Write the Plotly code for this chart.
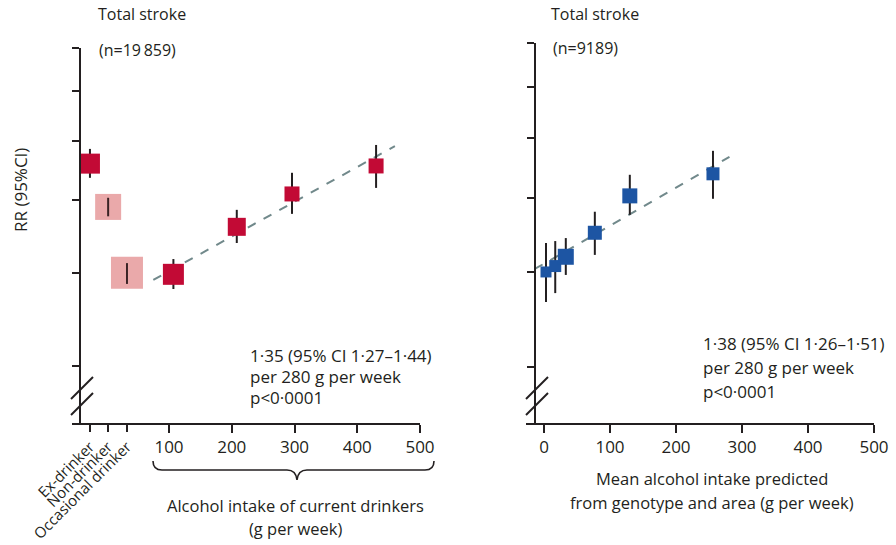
import numpy as np
import plotly.graph_objects as go

W, H = 896, 545
FONT = "Open Sans"
INK = "#231f20"
RED = "#c20a35"
PINK = "#eaa9aa"
BLUE = "#1d55a3"
FIT = "#71898b"

# ---------------- data ----------------
# Left panel: observational (conventional) analysis
cat_labels = ["Ex-drinker", "Non-drinker", "Occasional drinker"]
cat_pos = [-26, 3, 33]
cat_rr = [1.40, 1.225, 1.00]
cat_lo = [1.34, 1.19, 0.966]
cat_hi = [1.465, 1.26, 1.03]
cat_size = [20, 26, 32]

cur_intake = [107, 208, 296, 430]
cur_rr = [0.995, 1.152, 1.275, 1.39]
cur_lo = [0.951, 1.096, 1.199, 1.299]
cur_hi = [1.043, 1.214, 1.361, 1.483]
cur_size = [21, 18, 15, 15]

left_fit_x = [75, 460]
left_fit_rr0 = 0.978
left_rr_per280 = 1.35
left_stats = ["1\u00b735 (95% CI 1\u00b727\u20131\u00b744)", "per 280 g per week", "p<0\u00b70001"]

# Right panel: genetic (Mendelian randomisation) analysis
gen_intake = [3, 17, 33, 77, 130, 256]
gen_rr = [1.0, 1.018, 1.047, 1.126, 1.259, 1.346]
gen_lo = [0.913, 0.938, 0.991, 1.053, 1.189, 1.248]
gen_hi = [1.092, 1.098, 1.108, 1.200, 1.342, 1.443]
gen_size = [11, 12, 16, 14, 15, 13]

right_fit_x = [-14, 281]
right_fit_rr0 = 1.009
right_rr_per280 = 1.38
right_stats = ["1\u00b738 (95% CI 1\u00b726\u20131\u00b751)", "per 280 g per week", "p<0\u00b70001"]

y_ticks = [0.75, 1.0, 1.25, 1.5, 1.75, 2.0]
x_ticks_left = [100, 200, 300, 400, 500]
x_ticks_right = [0, 100, 200, 300, 400, 500]


def px(x):
    return x / W


def py(y):
    return 1 - y / H


def fit_line(xr, rr0, per280):
    xs = np.array(xr, dtype=float)
    return xs, rr0 * per280 ** ((xs - xs[0]) / 280.0)


def err(lo, mid, hi, color=INK):
    return dict(type="data", symmetric=False,
                array=[h - m for h, m in zip(hi, mid)],
                arrayminus=[m - l for l, m in zip(lo, mid)],
                color=color, thickness=2, width=0)


fig = go.Figure()

# ---------- left panel ----------
lx, ly = fit_line(left_fit_x, left_fit_rr0, left_rr_per280)
fig.add_trace(go.Scatter(x=lx, y=ly, mode="lines", xaxis="x", yaxis="y",
                         line=dict(color=FIT, width=2, dash="dash"), hoverinfo="skip"))

# ex-drinker (solid, error bar behind marker)
fig.add_trace(go.Scatter(
    x=cat_pos[:1], y=cat_rr[:1], mode="markers", xaxis="x", yaxis="y",
    marker=dict(symbol="square", size=cat_size[:1], color=RED, opacity=1, line=dict(width=0)),
    error_y=err(cat_lo[:1], cat_rr[:1], cat_hi[:1])))

# non / occasional drinkers (pale boxes with CI on top)
fig.add_trace(go.Scatter(
    x=cat_pos[1:], y=cat_rr[1:], mode="markers", xaxis="x", yaxis="y",
    marker=dict(symbol="square", size=cat_size[1:], color=PINK, opacity=1, line=dict(width=0))))
fig.add_trace(go.Scatter(
    x=cat_pos[1:], y=cat_rr[1:], mode="markers", xaxis="x", yaxis="y",
    marker=dict(size=1, color="rgba(0,0,0,0)"),
    error_y=err(cat_lo[1:], cat_rr[1:], cat_hi[1:], "#3a2325")))

# current drinkers
fig.add_trace(go.Scatter(
    x=cur_intake, y=cur_rr, mode="markers", xaxis="x", yaxis="y",
    marker=dict(symbol="square", size=cur_size, color=RED, opacity=1, line=dict(width=0)),
    error_y=err(cur_lo, cur_rr, cur_hi)))

# invisible trace to hold the category axis
fig.add_trace(go.Scatter(x=[cat_pos[0]], y=[1.0], mode="markers", xaxis="x3", yaxis="y",
                         marker=dict(size=1, color="rgba(0,0,0,0)"), hoverinfo="skip"))

# ---------- right panel ----------
rx, ry = fit_line(right_fit_x, right_fit_rr0, right_rr_per280)
fig.add_trace(go.Scatter(x=rx, y=ry, mode="lines", xaxis="x2", yaxis="y2",
                         line=dict(color=FIT, width=2, dash="dash"), hoverinfo="skip"))
fig.add_trace(go.Scatter(
    x=gen_intake, y=gen_rr, mode="markers", xaxis="x2", yaxis="y2",
    marker=dict(symbol="square", size=gen_size, color=BLUE, opacity=1, line=dict(width=0)),
    error_y=err(gen_lo, gen_rr, gen_hi)))

tickfont = dict(family=FONT, size=17, color=INK)
common_x = dict(showgrid=False, zeroline=False, showline=True, linecolor=INK, linewidth=2,
                ticks="outside", ticklen=8, tickwidth=2, tickcolor=INK, tickfont=tickfont,
                fixedrange=True, automargin=False)
common_y = dict(showgrid=False, zeroline=False, showline=True, linecolor=INK, linewidth=2,
                ticks="outside", ticklen=7, tickwidth=2, tickcolor=INK, showticklabels=False,
                type="log", tickmode="array", tickvals=y_ticks, fixedrange=True,
                automargin=False)

fig.update_layout(
    width=W, height=H, margin=dict(l=0, r=0, t=0, b=0, pad=0, autoexpand=False),
    paper_bgcolor="white", plot_bgcolor="white", showlegend=False,
    font=dict(family=FONT, size=16, color=INK),
    xaxis=dict(common_x, domain=[px(72), px(420)], range=[-54.6, 500], anchor="y",
               tickmode="array", tickvals=x_ticks_left),
    xaxis3=dict(common_x, domain=[px(72), px(420)], range=[-54.6, 500], anchor="y",
                overlaying="x", side="bottom", showline=False,
                tickmode="array", tickvals=cat_pos, ticktext=cat_labels, tickangle=-45,
                tickfont=dict(family=FONT, size=15, color=INK)),
    yaxis=dict(common_y, domain=[py(423), py(48)],
               range=[np.log10(0.629), np.log10(2.0)], anchor="free", position=px(80)),
    xaxis2=dict(common_x, domain=[px(526), px(874)], range=[-27.3, 500], anchor="y2",
                tickmode="array", tickvals=x_ticks_right),
    yaxis2=dict(common_y, domain=[py(423), py(43)],
                range=[np.log10(0.633), np.log10(2.0)], anchor="free", position=px(535)),
)

ann = []


def text(x, y, s, xanchor="left", yanchor="middle", size=16.5, angle=0, align="left"):
    ann.append(dict(x=px(x), y=py(y), xref="paper", yref="paper", text=s, showarrow=False,
                    xanchor=xanchor, yanchor=yanchor, textangle=angle, align=align,
                    font=dict(family=FONT, size=size, color=INK)))


text(96, 14, "Total stroke", size=16)
text(97, 50, "(n=19\u2009859)", size=16)
text(549, 14, "Total stroke", size=16)
text(551, 48, "(n=9189)", size=16)
text(20, 190, "RR (95%CI)", xanchor="center", angle=-90, size=17)
for i, s in enumerate(left_stats):
    text(248, 355 + 21 * i, s, size=17)
for i, s in enumerate(right_stats):
    text(701, 343 + 24 * i, s, size=17)
text(295, 505, "Alcohol intake of current drinkers", xanchor="center")
text(295, 528, "(g per week)", xanchor="center")
text(712, 478, "Mean alcohol intake predicted", xanchor="center")
text(712, 502, "from genotype and area (g per week)", xanchor="center")
fig.update_layout(annotations=ann)

shapes = []


def seg(x0, y0, x1, y1):
    shapes.append(dict(type="line", xref="paper", yref="paper",
                       x0=px(x0), y0=py(y0), x1=px(x1), y1=py(y1),
                       line=dict(color=INK, width=2)))


# axis break marks
for bx in (71, 526):
    seg(bx, 399, bx + 22, 377)
    seg(bx, 415, bx + 22, 393)


def P(x, y):
    return f"{px(x):.5f},{py(y):.5f}"


brace = ("M " + P(153, 461) + " Q " + P(153, 470) + " " + P(162, 470) +
         " L " + P(287, 470) + " Q " + P(296, 470) + " " + P(297, 480) +
         " Q " + P(298, 470) + " " + P(307, 470) +
         " L " + P(425, 470) + " Q " + P(434, 470) + " " + P(434, 461))
shapes.append(dict(type="path", xref="paper", yref="paper", path=brace,
                   line=dict(color=INK, width=1.6)))
fig.update_layout(shapes=shapes)

fig.write_html("out.html")
